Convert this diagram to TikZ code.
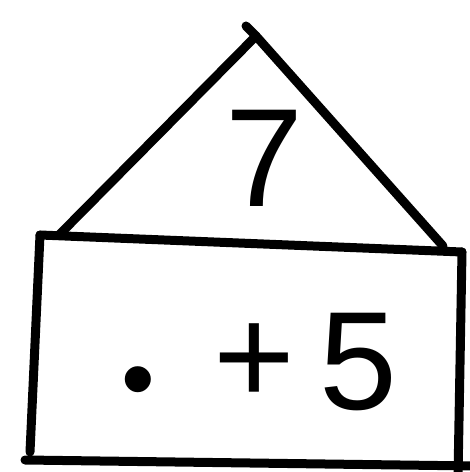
\documentclass[tikz,border=0pt]{standalone}
\usepackage{fontspec}
\setmainfont{Liberation Sans}
\begin{document}
\begin{tikzpicture}[x=1pt,y=1pt,
  stroke/.style={line width=9pt,line cap=round,line join=round,black},
  digit/.style={inner sep=0pt,font=\fontsize{140}{140}\selectfont}]
\useasboundingbox (0,0) rectangle (470,472);
% roof
\coordinate (apex) at (256,436);
\coordinate (tick) at (246,446);
\coordinate (rl) at (60,238);
\coordinate (rr) at (443,226);
\draw[stroke] (tick) -- (apex) -- (rl);
\draw[stroke] (apex) -- (rr);
% body
\coordinate (tl) at (40,237);
\coordinate (tr) at (462,220);
\coordinate (lb) at (30,20);
\coordinate (rb) at (458,-5);
\coordinate (bl) at (25,12);
\coordinate (br) at (475,6);
\draw[stroke] (tl) -- (tr);
\draw[stroke] (tl) -- (lb);
\draw[stroke] (tr) -- (rb);
\draw[stroke] (bl) -- (br);
% texts
\node[digit] (seven) at (264,314) {7};
\node[inner sep=0pt,font=\fontsize{96}{96}\selectfont,anchor=base] (dot) at (138,60) {•};
\node[digit] (plus) at (254,108) {+};
\node[digit] (five) at (358,110) {5};
\end{tikzpicture}
\end{document}
